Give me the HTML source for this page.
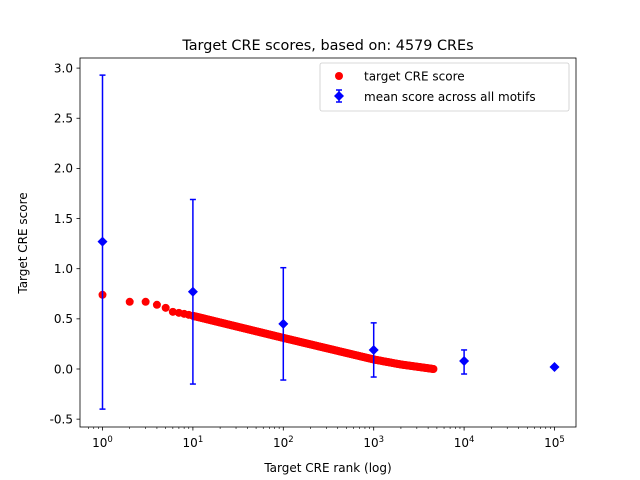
<!DOCTYPE html>
<html><head><meta charset="utf-8"><style>
body{margin:0;background:#fff}
svg{display:block;font-family:"DejaVu Sans","Liberation Sans",sans-serif}
</style></head><body>
<svg id="s" width="640" height="480" viewBox="0 0 640 480" xmlns="http://www.w3.org/2000/svg">
<rect width="640" height="480" fill="#fff"/>
<text x="328" y="50" font-size="14.4" text-anchor="middle">Target CRE scores, based on: 4579 CREs</text>
<g id="pts"></g>
<g id="bl"></g>
<rect x="80" y="58" width="496" height="369" fill="none" stroke="#000" stroke-width="0.8"/>
<g font-size="12" text-anchor="end" id="yt"></g>
<g font-size="12" text-anchor="middle" id="xt"></g>
<text x="328" y="472" font-size="12" text-anchor="middle">Target CRE rank (log)</text>
<text transform="translate(27,243) rotate(-90)" font-size="12" text-anchor="middle">Target CRE score</text>
<rect x="320" y="63" width="249" height="48" fill="#fff" fill-opacity="0.8" stroke="#ccc" stroke-width="0.8" rx="2"/>
<circle cx="339" cy="76" r="4" fill="#f00"/>
<text x="364" y="80.5" font-size="12">target CRE score</text>
<line x1="339" y1="90" x2="339" y2="102" stroke="#00f" stroke-width="1.5"/>
<line x1="336" y1="90" x2="342" y2="90" stroke="#00f" stroke-width="1.5"/>
<line x1="336" y1="102" x2="342" y2="102" stroke="#00f" stroke-width="1.5"/>
<path d="M339 91 L344 96 L339 101 L334 96Z" fill="#00f"/>
<text x="364" y="101" font-size="12">mean score across all motifs</text>
</svg>
<script>
var NS="http://www.w3.org/2000/svg";
function X(r){return 102.5+90.4*Math.log10(r);}
function Y(v){return 369-100.3*v;}
function el(t,a,p){var e=document.createElementNS(NS,t);for(var k in a)e.setAttribute(k,a[k]);(p||document.getElementById('pts')).appendChild(e);return e;}
var yt=document.getElementById('yt'),xt=document.getElementById('xt'),s=document.getElementById('s'),bl=document.getElementById('bl');
for(var v=-0.5;v<=3.01;v+=0.5){var y=Y(v);el('line',{x1:76.5,x2:80,y1:y,y2:y,stroke:'#000','stroke-width':0.8},s);var t=el('text',{x:73,y:y+4.3},yt);t.textContent=v.toFixed(1);}
for(var d=0;d<=5;d++){var x=X(Math.pow(10,d));el('line',{x1:x,x2:x,y1:427,y2:430.5,stroke:'#000','stroke-width':0.8},s);
var t=el('text',{x:x,y:447},xt);t.innerHTML='10<tspan font-size="8.5" dy="-5">'+d+'</tspan>';
for(var m=2;m<10&&d<5;m++){var xm=X(m*Math.pow(10,d));el('line',{x1:xm,x2:xm,y1:427,y2:429,stroke:'#000','stroke-width':0.6},s);}}
[0.7,0.8,0.9].forEach(function(r){el('line',{x1:X(r),x2:X(r),y1:427,y2:429,stroke:'#000','stroke-width':0.6},s);});
var fixed={1:0.74,2:0.67,3:0.67,4:0.64,5:0.61,6:0.57,7:0.56,8:0.55,9:0.54};
var K=[[1,0.53],[2,0.31],[3,0.095],[3.3,0.045],[3.661,0.0]];
function f(r){if(fixed[r])return fixed[r];var l=Math.log10(r);for(var i=0;i<K.length-1;i++){if(l<=K[i+1][0]){var a=K[i],b=K[i+1];return a[1]+(b[1]-a[1])*(l-a[0])/(b[0]-a[0]);}}return 0;}
for(var r=1;r<=9;r++)el('circle',{cx:X(r),cy:Y(f(r)),r:4,fill:'#f00'});
for(var l=1;l<=Math.log10(4579);l+=0.008){var r=Math.pow(10,l);el('circle',{cx:X(r),cy:Y(f(r)),r:4,fill:'#f00'});}
el('circle',{cx:X(4579),cy:Y(0),r:4,fill:'#f00'});
var B=[[1,1.27,-0.4,2.93],[10,0.77,-0.15,1.69],[100,0.45,-0.11,1.01],[1000,0.19,-0.08,0.46],[10000,0.08,-0.05,0.19],[100000,0.02,0.02,0.02]];
B.forEach(function(b){var x=X(b[0]);if(b[2]!=b[3]){el('line',{x1:x,x2:x,y1:Y(b[2]),y2:Y(b[3]),stroke:'#00f','stroke-width':1.5},bl);
[b[2],b[3]].forEach(function(v){el('line',{x1:x-3,x2:x+3,y1:Y(v),y2:Y(v),stroke:'#00f','stroke-width':1.5},bl);});}
var y=Y(b[1]);el('path',{d:'M'+x+' '+(y-5)+' L'+(x+5)+' '+y+' L'+x+' '+(y+5)+' L'+(x-5)+' '+y+'Z',fill:'#00f'},bl);});
</script>
</body></html>
